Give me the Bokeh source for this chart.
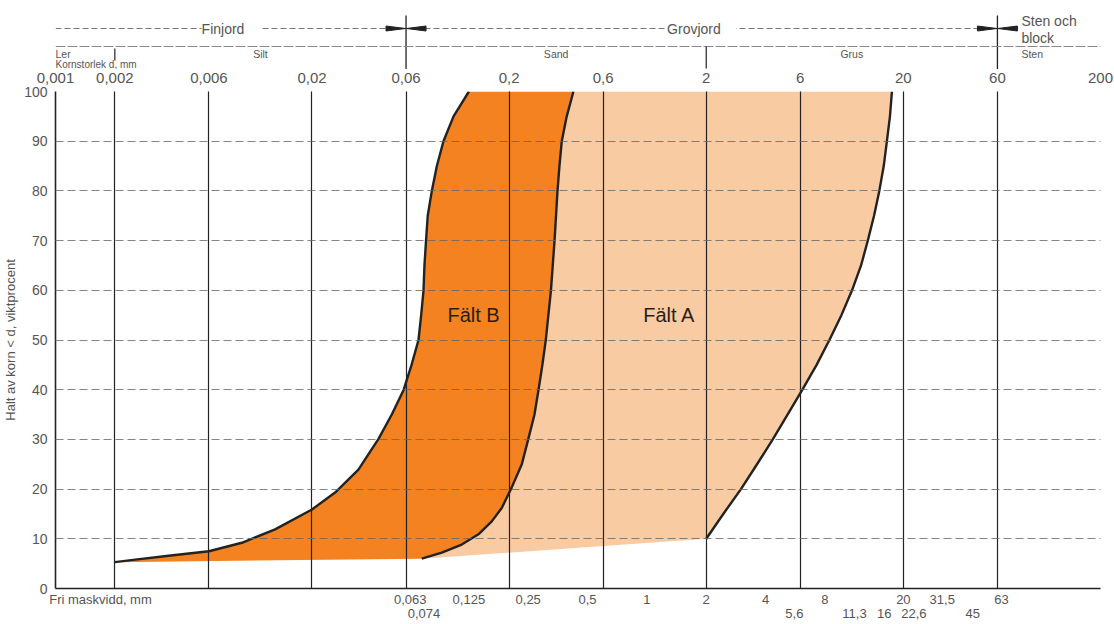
from bokeh.plotting import figure
from bokeh.models import Range1d, FixedTicker, LogAxis, Label
from bokeh.layouts import column
from bokeh.embed import file_html
from bokeh.resources import INLINE
from bokeh.core.properties import value

# ---------------- data ----------------
top_ticks = [0.001, 0.002, 0.006, 0.02, 0.06, 0.2, 0.6, 2, 6, 20, 60, 200]
top_labels = ["0,001", "0,002", "0,006", "0,02", "0,06", "0,2", "0,6", "2", "6", "20", "60", "200"]
grid_x = [0.002, 0.006, 0.02, 0.06, 0.2, 0.6, 2, 6, 20, 60, 200]

sieve_row1 = [0.063, 0.125, 0.25, 0.5, 1, 2, 4, 8, 20, 31.5, 63]
sieve_row1_labels = ["0,063", "0,125", "0,25", "0,5", "1", "2", "4", "8", "20", "31,5", "63"]
sieve_row2 = [0.074, 5.6, 11.3, 16, 22.6, 45]
sieve_row2_labels = ["0,074", "5,6", "11,3", "16", "22,6", "45"]
sieve_title = "Fri maskvidd, mm"

y_ticks = [0, 10, 20, 30, 40, 50, 60, 70, 80, 90, 100]
y_title = "Halt av korn < d, viktprocent"

fraction_bounds = [0.002, 0.06, 2, 60]
fraction_names = ["Ler", "Silt", "Sand", "Grus", "Sten"]
group_bounds = [0.001, 0.06, 60]
group_names = ["Finjord", "Grovjord"]
group_last = ["Sten och", "block"]
size_title = "Kornstorlek d, mm"

# Fält B left boundary (grain size mm, percent passing)
b_left_x = [0.002, 0.00254, 0.00375, 0.006, 0.00882, 0.0130, 0.02, 0.0262, 0.0344, 0.0435,
            0.0508, 0.0584, 0.0640, 0.0694, 0.0716, 0.0736, 0.0744, 0.0758, 0.0773, 0.0811,
            0.0860, 0.0929, 0.1045, 0.125]
b_left_y = [5.3, 5.8, 6.6, 7.5, 9.2, 11.9, 15.9, 19.3, 23.9, 30.1,
            35, 40, 45, 50, 55, 60, 65, 70, 75, 80,
            85, 90, 95, 100]
# Fält B right boundary = Fält A left boundary
b_right_x = [0.0721, 0.0911, 0.115, 0.1398, 0.1633, 0.1835, 0.206, 0.232, 0.250, 0.269,
             0.282, 0.295, 0.307, 0.326, 0.340, 0.352, 0.360, 0.370, 0.392, 0.424]
b_right_y = [6.0, 7.2, 8.85, 10.9, 13.5, 16.2, 20.3, 25, 30, 35,
             40, 45, 50, 60, 70, 80, 85, 90, 95, 100]
# Fält A right boundary
a_right_x = [2.0, 2.44, 3.0, 3.62, 4.35, 5.17, 6.15, 7.26, 8.43, 9.70,
             10.98, 12.2, 13.2, 14.2, 15.1, 15.9, 16.5, 17.1, 17.5]
a_right_y = [10, 15, 20, 25, 30, 35, 40, 45, 50, 55,
             60, 65, 70, 75, 80, 85, 90, 95, 100]

field_names = ["Fält A", "Fält B"]

# ---------------- styles ----------------
FONT = "Liberation Sans"
GREY = "#555555"
DARK_OR = "#F58220"
LIGHT_OR = "#F9CBA2"
LINE = "#222222"
FW = 1045
DEC_PX = FW / 5.301  # pixels per decade

xr = Range1d(0.001, 200)

# ---------------- top header figure ----------------
top = figure(x_axis_type="log", x_range=xr, y_range=Range1d(69, 0),
             frame_width=FW, frame_height=69, min_border_left=54, min_border_right=13,
             min_border_top=0, min_border_bottom=0, x_axis_location=None, y_axis_location=None,
             toolbar_location=None, output_backend="svg")
top.grid.grid_line_color = None
top.outline_line_color = None

# row 1 (Finjord / Grovjord)
top.line([group_bounds[0], group_bounds[2]], [28, 28], line_color="#777777", line_width=1, line_dash="6 3")
for i, name in enumerate(group_names):
    cx = (group_bounds[i] * group_bounds[i + 1]) ** 0.5
    top.add_layout(Label(x=cx, y=28, text="  " + name + "  ", text_align="center", text_baseline="middle",
                         text_font=FONT, text_font_size="14px", text_color=GREY,
                         background_fill_color="white"))
top.text(x=[group_bounds[2] * 10 ** (24 / DEC_PX)] * 2, y=[20, 37], text=group_last,
         text_font=value(FONT), text_font_size="14px", text_color=GREY,
         text_align="left", text_baseline="middle")

# arrows at main boundaries
f = 10 ** (20 / DEC_PX)
for b in [group_bounds[1], group_bounds[2]]:
    top.patch([b / f, b * 0.995, b / f], [25.5, 28, 30.5], color=LINE)
    top.patch([b * f, b * 1.005, b * f], [25.5, 28, 30.5], color=LINE)
    top.line([b, b], [15, 69], line_color=LINE, line_width=1.3)

# row 2 (fractions)
top.line([0.001, 200], [46, 46], line_color="#888888", line_width=1, line_dash="10 2")
top.line([fraction_bounds[2]] * 2, [46, 68], line_color=LINE, line_width=1.2)
top.line([fraction_bounds[0]] * 2, [48, 60], line_color=LINE, line_width=1.2)
frac_x = [0.001] + [(fraction_bounds[i] * fraction_bounds[i + 1]) ** 0.5 for i in range(3)] \
         + [fraction_bounds[3] * 10 ** (24 / DEC_PX)]
frac_align = ["left", "center", "center", "center", "left"]
for xx, name, al in zip(frac_x, fraction_names, frac_align):
    top.text(x=[xx], y=[53], text=[name], text_font=value(FONT), text_font_size="10.5px",
             text_color=GREY, text_align=al, text_baseline="middle")
top.text(x=[0.001], y=[63.5], text=[size_title], text_font=value(FONT), text_font_size="10px",
         text_color=GREY, text_align="left", text_baseline="middle")

# ---------------- main figure ----------------
p = figure(x_axis_type="log", x_range=xr, y_range=Range1d(0, 100),
           frame_width=FW, frame_height=497, min_border_left=54, min_border_right=13,
           min_border_top=0, min_border_bottom=0, toolbar_location=None, output_backend="svg")
p.outline_line_color = None

# fields
a_xs = b_right_x + a_right_x[::-1]
a_ys = b_right_y + a_right_y[::-1]
p.patch(a_xs, a_ys, fill_color=LIGHT_OR, line_color=None)
b_xs = b_left_x + b_right_x[::-1]
b_ys = b_left_y + b_right_y[::-1]
p.patch(b_xs, b_ys, fill_color=DARK_OR, line_color=None)

for xs, ys in [(b_left_x, b_left_y), (b_right_x, b_right_y), (a_right_x, a_right_y)]:
    p.line(xs, ys, line_color=LINE, line_width=2.4, line_join="round")

p.text(x=[1.30, 0.132], y=[55, 55], text=field_names, text_font=value(FONT), text_font_size="20px",
       text_color="#2a1e14", text_align="center", text_baseline="middle")

# grids
p.xgrid.ticker = FixedTicker(ticks=grid_x)
p.xgrid.grid_line_color = LINE
p.xgrid.grid_line_width = 1.2
p.xgrid.level = "overlay"
p.ygrid.ticker = FixedTicker(ticks=y_ticks[1:])
p.ygrid.grid_line_color = "#666666"
p.ygrid.grid_line_width = 0.8
p.ygrid.grid_line_dash = "8 4"
p.ygrid.level = "overlay"

# left axis
ya = p.yaxis[0]
ya.ticker = FixedTicker(ticks=y_ticks)
ya.axis_line_color = LINE
ya.axis_line_width = 1.6
ya.major_tick_line_color = None
ya.major_tick_out = 0
ya.major_tick_in = 0
ya.minor_tick_line_color = None
ya.minor_tick_out = 0
ya.major_label_text_font = FONT
ya.major_label_text_font_size = "14px"
ya.major_label_text_color = GREY
ya.major_label_standoff = 8
ya.axis_label = y_title
ya.axis_label_text_font = FONT
ya.axis_label_text_font_size = "13px"
ya.axis_label_text_font_style = "normal"
ya.axis_label_text_color = GREY
ya.axis_label_standoff = 3

# bottom axis row 1
fri_pos = 0.001 * 10 ** (45 / DEC_PX)
xa = p.xaxis[0]
xa.ticker = FixedTicker(ticks=[fri_pos] + sieve_row1)
ov1 = {fri_pos: sieve_title}
ov1.update(dict(zip(sieve_row1, sieve_row1_labels)))
xa.major_label_overrides = ov1
xa.axis_line_color = LINE
xa.axis_line_width = 1.6
xa.major_tick_line_color = None
xa.major_tick_out = 0
xa.major_tick_in = 0
xa.minor_tick_line_color = None
xa.minor_tick_out = 0
xa.major_label_standoff = 3
xa.major_label_text_font = FONT
xa.major_label_text_font_size = "13px"
xa.major_label_text_color = GREY

# bottom axis row 2
xb = LogAxis(ticker=FixedTicker(ticks=sieve_row2),
             major_label_overrides=dict(zip(sieve_row2, sieve_row2_labels)),
             axis_line_color=None, major_tick_line_color=None, minor_tick_line_color=None,
             major_tick_out=0, major_tick_in=0, minor_tick_out=0,
             major_label_standoff=-1, major_label_text_font=FONT,
             major_label_text_font_size="13px", major_label_text_color=GREY)
p.add_layout(xb, "below")

# top axis
xt = LogAxis(ticker=FixedTicker(ticks=top_ticks),
             major_label_overrides=dict(zip(top_ticks, top_labels)),
             axis_line_color=None, major_tick_line_color=None, minor_tick_line_color=None,
             major_tick_out=0, major_tick_in=0, minor_tick_out=0,
             major_label_standoff=9, major_label_text_font=FONT,
             major_label_text_font_size="15px", major_label_text_color=GREY)
p.add_layout(xt, "above")

layout = column(top, p)
open("out.html", "w").write(file_html(layout, INLINE))
